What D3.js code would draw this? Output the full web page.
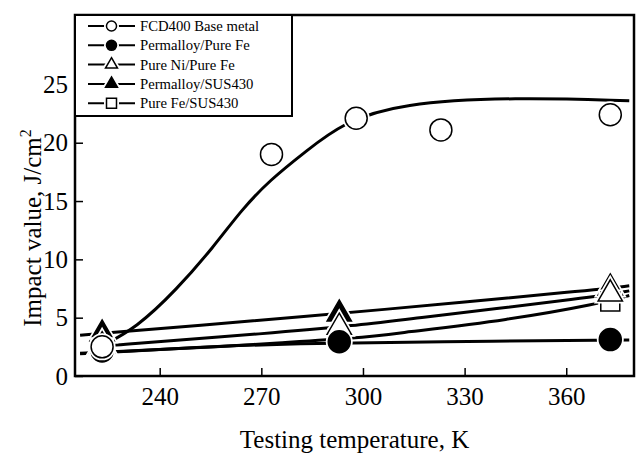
<!DOCTYPE html>
<html>
<head>
<meta charset="utf-8">
<script src="https://cdn.jsdelivr.net/npm/d3@7"></script>
<style>
  body { margin: 0; background: #fff; }
  svg text { font-family: "Liberation Serif", "Times New Roman", Times, "DejaVu Serif", serif; fill: #000; }
</style>
</head>
<body>
<script>
// series names (legend order)
var seriesNames = ["FCD400 Base metal", "Permalloy/Pure Fe", "Pure Ni/Pure Fe", "Permalloy/SUS430", "Pure Fe/SUS430"];

// measured points
var fcdTemps = [223, 273, 298, 323, 373];
var fcdValues = [2.5, 19.0, 22.1, 21.1, 22.4];
var jointTemps = [223, 293, 373];
var permFeValues = [2.15, 2.94, 3.12];
var niFeValues = [2.6, 4.18, 7.04];
var permSusValues = [3.6, 5.32, 7.55];
var feSusValues = [2.3, 3.1, 6.38];

// fitted curves as [K, J/cm2]
var fcdCurve = [[223, 2.6], [233, 4.1], [245, 7.4], [256, 11.1], [264, 14.2], [272.5, 16.8],
  [283.3, 19.3], [294, 21.7], [311, 23.4], [345, 23.9], [378.6, 23.6]];
var permFeCurve = [[216.5, 1.9], [227, 2.05], [260, 2.6], [285, 2.8], [320, 2.95], [378.6, 3.08]];
var niFeCurve = [[223, 2.55], [226.8, 2.66], [272.5, 3.66], [299, 4.37], [310.8, 4.8], [369.7, 6.8], [378.6, 7.3]];
var permSusCurve = [[216.5, 3.5], [272.5, 4.85], [299, 5.5], [369.7, 7.42], [378.6, 7.73]];
var feSusCurve = [[216.5, 1.95], [227, 2.1], [260, 2.55], [272.5, 2.8], [299, 3.25], [311, 3.7], [343, 4.8], [369.7, 6.2], [378.6, 6.9]];

var xTicks = [240, 270, 300, 330, 360];
var yTicks = [0, 5, 10, 15, 20, 25];

var width = 642, height = 459;
var margin = { top: 15, right: 8, bottom: 83, left: 75 };
var serif = "Liberation Serif, Times New Roman, Times, DejaVu Serif, serif";

var svg = d3.select("body").append("svg")
  .attr("width", width)
  .attr("height", height);

var x = d3.scaleLinear().domain([215, 380]).range([margin.left, width - margin.right]);
var y = d3.scaleLinear().domain([0, 30.95]).range([height - margin.bottom, margin.top]);

// axes with inward ticks
svg.append("g")
  .attr("transform", "translate(0," + (height - margin.bottom) + ")")
  .call(d3.axisBottom(x).tickValues(xTicks).tickSizeInner(-8).tickSizeOuter(0).tickPadding(11))
  .call(function (g) { g.select(".domain").remove(); })
  .attr("font-family", serif)
  .attr("font-size", 25)
  .call(function (g) { g.selectAll("line").attr("stroke-width", 1.5); });

svg.append("g")
  .attr("transform", "translate(" + margin.left + ",0)")
  .call(d3.axisLeft(y).tickValues(yTicks).tickSizeInner(-8).tickSizeOuter(0).tickPadding(7))
  .call(function (g) { g.select(".domain").remove(); })
  .attr("font-family", serif)
  .attr("font-size", 25)
  .call(function (g) { g.selectAll("line").attr("stroke-width", 1.5); });

// fitted lines
var line = d3.line()
  .x(function (d) { return x(d[0]); })
  .y(function (d) { return y(d[1]); })
  .curve(d3.curveBasis);

[fcdCurve, permFeCurve, niFeCurve, permSusCurve, feSusCurve].forEach(function (c) {
  svg.append("path")
    .datum(c)
    .attr("fill", "none")
    .attr("stroke", "#000")
    .attr("stroke-width", 3)
    .attr("d", line);
});

// marker styles
var styles = [
  { sym: d3.symbolCircle, fill: "#fff", size: 380, lsize: 80 },
  { sym: d3.symbolCircle, fill: "#000", size: 380, lsize: 80 },
  { sym: d3.symbolTriangle, fill: "#fff", size: 255, lsize: 62 },
  { sym: d3.symbolTriangle, fill: "#000", size: 255, lsize: 62 },
  { sym: d3.symbolSquare, fill: "#fff", size: 361, lsize: 100 }
];

// drawing order: later sets sit on top
var pointSets = [
  { s: 3, t: jointTemps, v: permSusValues },
  { s: 4, t: jointTemps, v: feSusValues },
  { s: 2, t: jointTemps, v: niFeValues },
  { s: 1, t: jointTemps, v: permFeValues },
  { s: 0, t: fcdTemps, v: fcdValues }
];

function drawMarker(g, st, size, cx, cy) {
  var p = d3.symbol().type(st.sym).size(size)();
  g.append("path")
    .attr("d", p)
    .attr("transform", "translate(" + cx + "," + cy + ")")
    .attr("fill", "#fff")
    .attr("stroke", "#fff")
    .attr("stroke-width", 5);
  g.append("path")
    .attr("d", p)
    .attr("transform", "translate(" + cx + "," + cy + ")")
    .attr("fill", st.fill)
    .attr("stroke", "#000")
    .attr("stroke-width", 1.5);
}

var markers = svg.append("g");
pointSets.forEach(function (ps) {
  ps.t.forEach(function (t, i) {
    drawMarker(markers, styles[ps.s], styles[ps.s].size, x(t), y(ps.v[i]));
  });
});

// frame
svg.append("rect")
  .attr("x", margin.left)
  .attr("y", margin.top)
  .attr("width", width - margin.left - margin.right)
  .attr("height", height - margin.top - margin.bottom)
  .attr("fill", "none")
  .attr("stroke", "#000")
  .attr("stroke-width", 2.5);

// legend
var legend = svg.append("g");
legend.append("rect")
  .attr("x", margin.left)
  .attr("y", margin.top)
  .attr("width", 217)
  .attr("height", 101)
  .attr("fill", "#fff")
  .attr("stroke", "#000")
  .attr("stroke-width", 2);

seriesNames.forEach(function (name, i) {
  var ly = 26 + i * 19.3;
  legend.append("line")
    .attr("x1", 88).attr("x2", 135)
    .attr("y1", ly).attr("y2", ly)
    .attr("stroke", "#000").attr("stroke-width", 2);
  drawMarker(legend, styles[i], styles[i].lsize, 111.5, ly);
  legend.append("text")
    .attr("x", 140)
    .attr("y", ly + 5)
    .attr("font-family", serif)
    .attr("font-size", 14.7)
    .text(name);
});

// axis titles
svg.append("text")
  .attr("x", (margin.left + width - margin.right) / 2)
  .attr("y", 448)
  .attr("text-anchor", "middle")
  .attr("font-family", serif)
  .attr("font-size", 25)
  .text("Testing temperature, K");

var yl = svg.append("text")
  .attr("transform", "translate(41,228) rotate(-90)")
  .attr("text-anchor", "middle")
  .attr("font-family", serif)
  .attr("font-size", 25);
yl.append("tspan").text("Impact value, J/cm");
yl.append("tspan").attr("dy", -10).attr("font-size", 16).text("2");
</script>
</body>
</html>
